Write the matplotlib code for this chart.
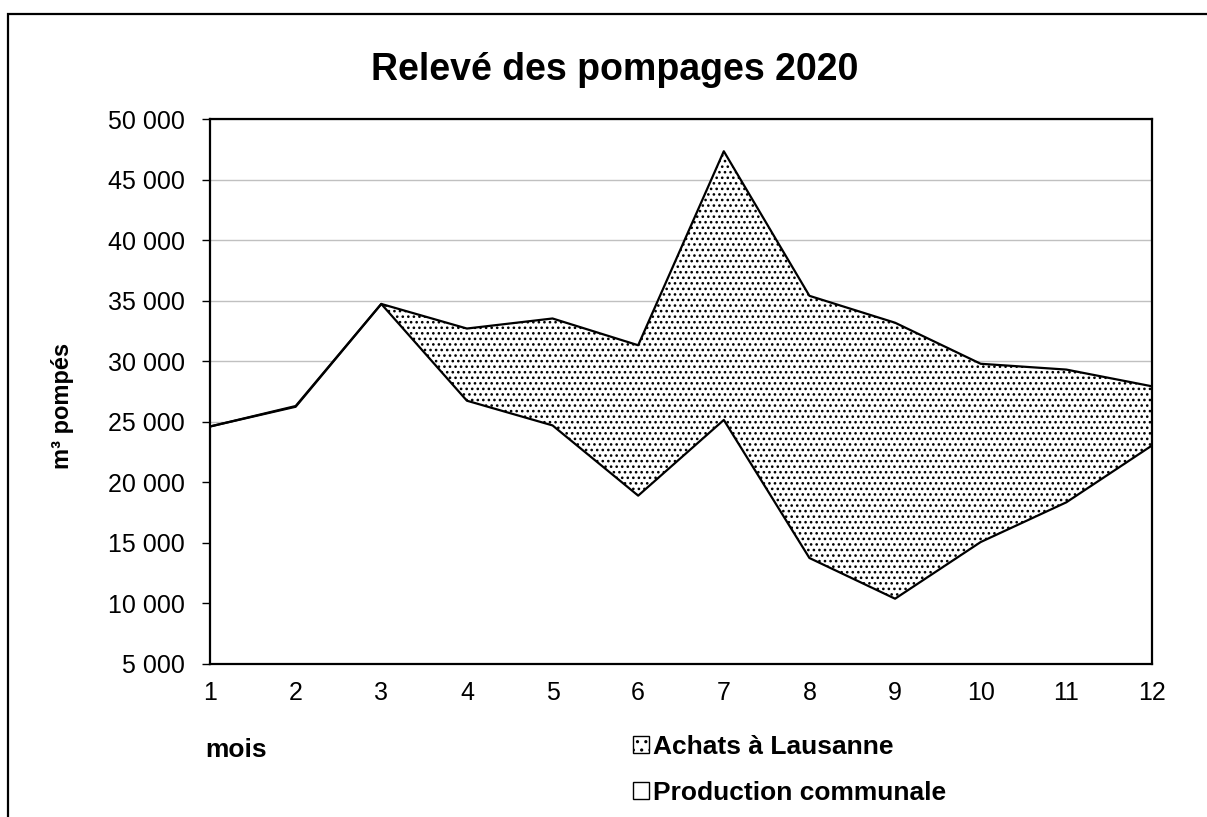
import matplotlib
matplotlib.use("Agg")
import matplotlib.pyplot as plt
from matplotlib.patches import Patch, Rectangle
from matplotlib.ticker import FuncFormatter, MultipleLocator

plt.rcParams['font.family'] = ['Liberation Sans', 'DejaVu Sans']
plt.rcParams['hatch.color'] = 'black'
plt.rcParams['hatch.linewidth'] = 1.1

# donnees (m3 par mois)
mois = [1, 2, 3, 4, 5, 6, 7, 8, 9, 10, 11, 12]
production = [24610, 26240, 34730, 26740, 24700, 18900, 25150, 13750, 10390, 15070, 18350, 23040]
achats = [0, 60, 0, 5960, 8830, 12420, 22190, 21650, 22790, 14720, 10960, 4890]
total = [p + a for p, a in zip(production, achats)]

fig = plt.figure(figsize=(12.07, 8.17), dpi=100)
ax = fig.add_axes([0.174, 0.1873, 0.7804, 0.667])

# production communale (blanc) puis achats (pointille) empiles dessus
ax.fill_between(mois, 0, production, facecolor='white', linewidth=0, zorder=2)
ax.fill_between(mois, production, total, facecolor='white', hatch='...',
                linewidth=0, zorder=2)
ax.plot(mois, production, color='black', lw=1.6, zorder=3)
ax.plot(mois, total, color='black', lw=1.6, zorder=3)

ax.set_xlim(1, 12)
ax.set_ylim(5000, 50000)
ax.set_xticks(mois)
ax.xaxis.set_minor_locator(MultipleLocator(0.5))
ax.yaxis.set_major_locator(MultipleLocator(5000))
ax.yaxis.set_major_formatter(FuncFormatter(lambda v, p: f"{v:,.0f}".replace(",", " ")))
ax.grid(axis='y', color='#c0c0c0', lw=1.0, zorder=0)
ax.set_axisbelow(True)

ax.tick_params(axis='y', direction='out', length=6, width=1, pad=12, labelsize=18)
ax.tick_params(axis='x', which='major', length=0, pad=12, labelsize=18)
ax.tick_params(axis='x', which='minor', direction='in', length=5, color='#e6e6e6')
for s in ax.spines.values():
    s.set_linewidth(1.6)
    s.set_color('black')
    s.set_zorder(4)

fig.text(0.5095, 0.9143, "Relevé des pompages 2020", ha='center', va='center',
         fontsize=27, fontweight='bold')
fig.text(0.0514, 0.503, "m³ pompés", ha='center', va='center', rotation=90,
         fontsize=17, fontweight='bold')
fig.text(0.170, 0.082, "mois", ha='left', va='center', fontsize=19, fontweight='bold')

handles = [Patch(facecolor='white', edgecolor='black', hatch='..', lw=1),
           Patch(facecolor='white', edgecolor='black', lw=1)]
labels = ["Achats à Lausanne", "Production communale"]
leg = fig.legend(handles, labels, loc='upper left', bbox_to_anchor=(0.5246, 0.1005),
                 frameon=False, handlelength=0.6, handleheight=0.6, handletextpad=0.16,
                 labelspacing=0.82, borderpad=0, borderaxespad=0,
                 prop={'size': 19, 'weight': 'bold'})

# cadre exterieur
fig.patches.append(Rectangle((0.0066, -0.05), 1.2, 0.9829 + 0.05, transform=fig.transFigure,
                             fill=False, edgecolor='black', lw=1.6))

fig.savefig("out.png", dpi=100)
